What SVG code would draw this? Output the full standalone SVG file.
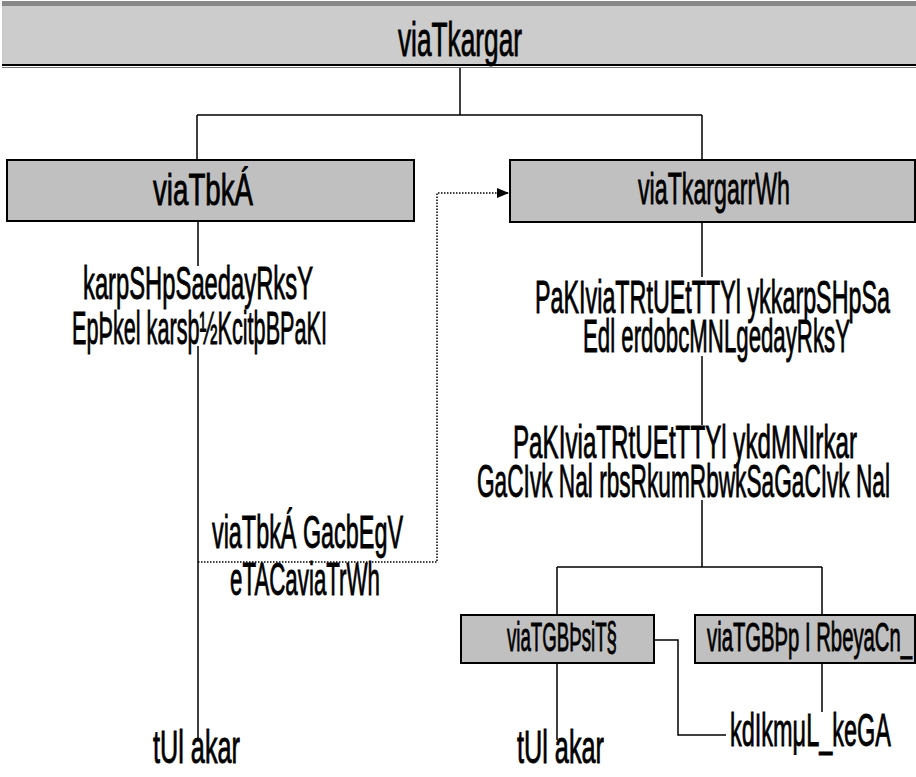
<svg xmlns="http://www.w3.org/2000/svg" width="916" height="777" viewBox="0 0 916 777">
<style>
text{font-family:"Liberation Sans",Arial,sans-serif;fill:#000;stroke:#000;stroke-width:0.9;}
.t{font-size:46px;}
.h{font-size:48px;}
.b{font-size:44px;}
.s{font-size:40px;}
.box{fill:#c0c0c0;stroke:#000;stroke-width:2;}
.ln{stroke:#000;stroke-width:1.5;fill:none;}
.dot{stroke:#000;stroke-width:1.5;fill:none;stroke-dasharray:1.5 1.5;}
</style>
<defs>
<marker id="ah" markerWidth="12" markerHeight="10" refX="11" refY="5" orient="auto" markerUnits="userSpaceOnUse">
<path d="M0,0 L12,5 L0,10 Z" fill="#000"/>
</marker>
</defs>
<g id="connectors">
<path class="ln" d="M460,67 V115 M197,115 H702 M197,115 V160 M702,115 V160"/>
<path class="ln" d="M198,221 V266 M198,346 V740"/>
<path class="ln" d="M702,223 V277 M702,356 V425 M702,500 V567 M557,567 H822 M557,567 V615 M822,567 V615"/>
<path class="ln" d="M557,663 V740 M822,663 V712 M654,640 H678 V735 H726"/>
<path class="dot" d="M198,562 H437 V193 H508" marker-end="url(#ah)"/>
</g>
<g id="top">
<rect x="2" y="2" width="914" height="63" fill="#cccccc"/>
<rect x="2" y="1" width="914" height="5" fill="#888888"/>
<line x1="2" y1="65" x2="916" y2="65" stroke="#000" stroke-width="2"/>
<line x1="2" y1="67.5" x2="916" y2="67.5" stroke="#777" stroke-width="1"/>
<text class="h" transform="scale(0.5,1)" x="796" y="56" textLength="248" lengthAdjust="spacingAndGlyphs">viaTkargar</text>
</g>
<g id="leftbox">
<rect class="box" x="7" y="160" width="407" height="61"/>
<text class="b" transform="scale(0.5,1)" x="306" y="205" textLength="200" lengthAdjust="spacingAndGlyphs">viaTbkÁ</text>
</g>
<g id="rightbox">
<rect class="box" x="510" y="160" width="405" height="62"/>
<text class="b" transform="scale(0.5,1)" x="1276" y="204" textLength="304" lengthAdjust="spacingAndGlyphs">viaTkargarrWh</text>
</g>
<g id="lefttext">
<text class="t" transform="scale(0.5,1)"><tspan x="166" y="299" textLength="460" lengthAdjust="spacingAndGlyphs">karpSHpSaedayRksY</tspan><tspan x="144" y="344" textLength="510" lengthAdjust="spacingAndGlyphs">EpÞkel karsþ½KcitþBPaKI</tspan></text>
</g>
<g id="righttext1">
<text class="t" transform="scale(0.5,1)"><tspan x="1070" y="313" textLength="710" lengthAdjust="spacingAndGlyphs">PaKIviaTRtUEtTTYl ykkarpSHpSa</tspan><tspan x="1166" y="352" textLength="534" lengthAdjust="spacingAndGlyphs">Edl erdobcMNLgedayRksY</tspan></text>
</g>
<g id="righttext2">
<text class="t" transform="scale(0.5,1)"><tspan x="1026" y="458" textLength="688" lengthAdjust="spacingAndGlyphs">PaKIviaTRtUEtTTYl ykdMNIrkar</tspan><tspan x="954" y="497" textLength="826" lengthAdjust="spacingAndGlyphs">GaCIvk Nal rbsRkumRbwkSaGaCIvk Nal</tspan></text>
</g>
<g id="dottedlabel">
<text class="t" transform="scale(0.5,1)"><tspan x="424" y="548" textLength="382" lengthAdjust="spacingAndGlyphs">viaTbkÁ GacbEgV</tspan><tspan x="460" y="595" textLength="300" lengthAdjust="spacingAndGlyphs">eTACaviaTrWh</tspan></text>
</g>
<g id="smallbox1">
<rect class="box" x="461" y="615" width="193" height="48"/>
<text class="s" transform="scale(0.5,1)" x="1014" y="651" textLength="220" lengthAdjust="spacingAndGlyphs">viaTGBÞsiT§</text>
</g>
<g id="smallbox2">
<rect class="box" x="695" y="615" width="220" height="48"/>
<text class="s" transform="scale(0.5,1)" x="1414" y="651" textLength="410" lengthAdjust="spacingAndGlyphs">viaTGBÞp I RbeyaCn_</text>
</g>
<g id="kdI">
<text class="t" transform="scale(0.5,1)" x="1460" y="746" textLength="322" lengthAdjust="spacingAndGlyphs">kdIkmμL_keGA</text>
</g>
<g id="tul1">
<text class="t" transform="scale(0.5,1)" x="306" y="763" textLength="174" lengthAdjust="spacingAndGlyphs">tUl akar</text>
</g>
<g id="tul2">
<text class="t" transform="scale(0.5,1)" x="1034" y="763" textLength="174" lengthAdjust="spacingAndGlyphs">tUl akar</text>
</g>
</svg>
